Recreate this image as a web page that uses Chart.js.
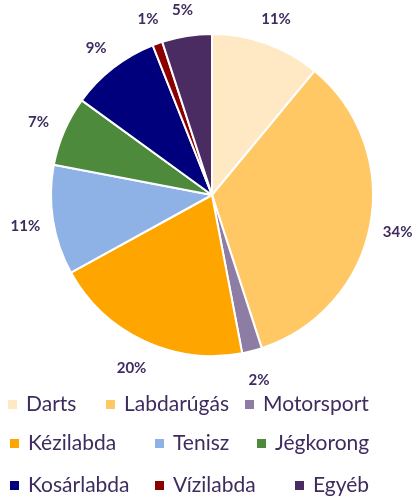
<!DOCTYPE html>
<html>
<head>
<meta charset="utf-8">
<script src="https://cdn.jsdelivr.net/npm/chart.js@4/dist/chart.umd.min.js"></script>
<style>
  html, body { margin: 0; padding: 0; background: #fff; }
  #wrap { width: 419px; height: 501px; }
</style>
</head>
<body>
<div id="wrap"><canvas id="myChart" width="419" height="501"></canvas></div>
<script>
var sports  = ["Darts", "Labdarúgás", "Motorsport", "Kézilabda", "Tenisz", "Jégkorong", "Kosárlabda", "Vízilabda", "Egyéb"];
var shares  = [11, 34, 2, 20, 11, 7, 9, 1, 5];
var colors  = ["#FFE8C4", "#FFC864", "#8D7DA5", "#FFA500", "#8EB1E6", "#4E8A3C", "#00007C", "#8B0000", "#4A2C62"];
var textCol = "#3E2C5E";

// legend rows, x of box for each item (reference has loose columns)
var legendRows = [[0, 1, 2], [3, 4, 5], [6, 7, 8]];
var legendX    = [[8, 106, 245], [10, 155, 257], [10, 155, 295]];
var legendY    = [404, 443, 485];

var pctLabels = {
	id: 'pctLabels',
	afterDatasetsDraw: function(chart) {
		var ctx = chart.ctx;
		var meta = chart.getDatasetMeta(0);
		ctx.save();
		ctx.fillStyle = textCol;
		ctx.font = "bold 15px Lato";
		ctx.textAlign = "center";
		ctx.textBaseline = "middle";
		meta.data.forEach(function(arc, i) {
			var mid = (arc.startAngle + arc.endAngle) / 2;
			var r = arc.outerRadius + 28;
			ctx.fillText(shares[i] + "%", arc.x + Math.cos(mid) * r, arc.y + Math.sin(mid) * r + 2);
		});
		ctx.restore();
	}
};

var sideLegend = {
	id: 'sideLegend',
	afterDraw: function(chart) {
		var ctx = chart.ctx;
		ctx.save();
		ctx.font = "21px Lato";
		ctx.textBaseline = "middle";
		ctx.textAlign = "left";
		for (var r = 0; r < legendRows.length; r++) {
			for (var c = 0; c < legendRows[r].length; c++) {
				var i = legendRows[r][c];
				var x = legendX[r][c];
				var y = legendY[r];
				ctx.fillStyle = colors[i];
				ctx.fillRect(x, y - 4, 9, 9);
				ctx.fillStyle = textCol;
				ctx.fillText(sports[i], x + 18, y);
			}
		}
		ctx.restore();
	}
};

var ctx = document.getElementById("myChart");
var myPieChart = new Chart(ctx, {
	type: 'pie',
	data: {
		labels: sports,
		datasets: [{
			data: shares,
			backgroundColor: colors,
			borderColor: "#ffffff",
			borderWidth: 2
		}]
	},
	options: {
		responsive: false,
		animation: false,
		layout: { padding: { top: 33, bottom: 144, left: 50, right: 45 } },
		plugins: {
			legend: { display: false },
			tooltip: { enabled: false }
		}
	},
	plugins: [pctLabels, sideLegend]
});
</script>
</body>
</html>
